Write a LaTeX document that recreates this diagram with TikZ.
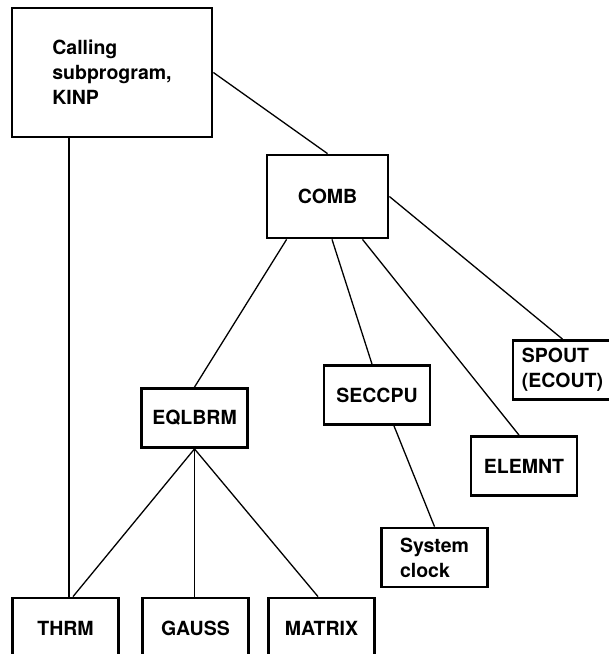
\documentclass[tikz,border=0pt]{standalone}
\usepackage{fontspec}
\setmainfont{TeX Gyre Heros}

\begin{document}
\begin{tikzpicture}[x=1pt,y=-1pt,
  box/.style={draw,line width=2.8pt,inner sep=0pt,minimum width=106pt,minimum height=59pt,
    align=left,font=\bfseries\fontsize{19.5}{25}\selectfont},
  link/.style={line width=1.3pt}]
\useasboundingbox (0,0) rectangle (609,654);
% calling program and main routine
\node[box,minimum width=200pt,minimum height=129pt] (kinp) at (112,72.5) {Calling\\subprogram,\\KINP};
\node[box,minimum width=121pt,minimum height=83pt] (comb) at (327.5,196.5) {COMB};
% second level
\node[box] (eqlbrm) at (194.5,418) {EQLBRM};
\node[box] (seccpu) at (377,395) {SECCPU};
\node[box,minimum width=99pt] (spout) at (562.5,370) {SPOUT\\(ECOUT)};
\node[box] (elemnt) at (524,466) {ELEMNT};
\node[box] (clock) at (434.5,557.5) {System\\clock};
% bottom row
\node[box,minimum height=60pt] (thrm) at (65.5,628) {THRM};
\node[box,minimum height=60pt] (gauss) at (195.5,628) {GAUSS};
\node[box,minimum height=60pt] (matrix) at (321.5,628) {MATRIX};
% connections
\draw[link] (kinp.east) -- (comb.north);
\draw[link] ([xshift=3.5pt]thrm.north |- kinp.south) -- ([xshift=3.5pt]thrm.north);
\draw[link] ([xshift=21pt]comb.south west) -- (eqlbrm.north);
\draw[link] ([xshift=4.5pt]comb.south) -- ([xshift=-5pt]seccpu.north);
\draw[link] ([xshift=35pt]comb.south) -- ([xshift=-5pt]elemnt.north);
\draw[link] (comb.east) -- (spout.north);
\draw[link] ([xshift=17pt]seccpu.south) -- (clock.north);
\draw[link] (eqlbrm.south) -- ([xshift=7.5pt]thrm.north);
\draw[link] (eqlbrm.south) -- (eqlbrm.south |- gauss.north);
\draw[link] (eqlbrm.south) -- ([xshift=-3.5pt]matrix.north);
\end{tikzpicture}
\end{document}
